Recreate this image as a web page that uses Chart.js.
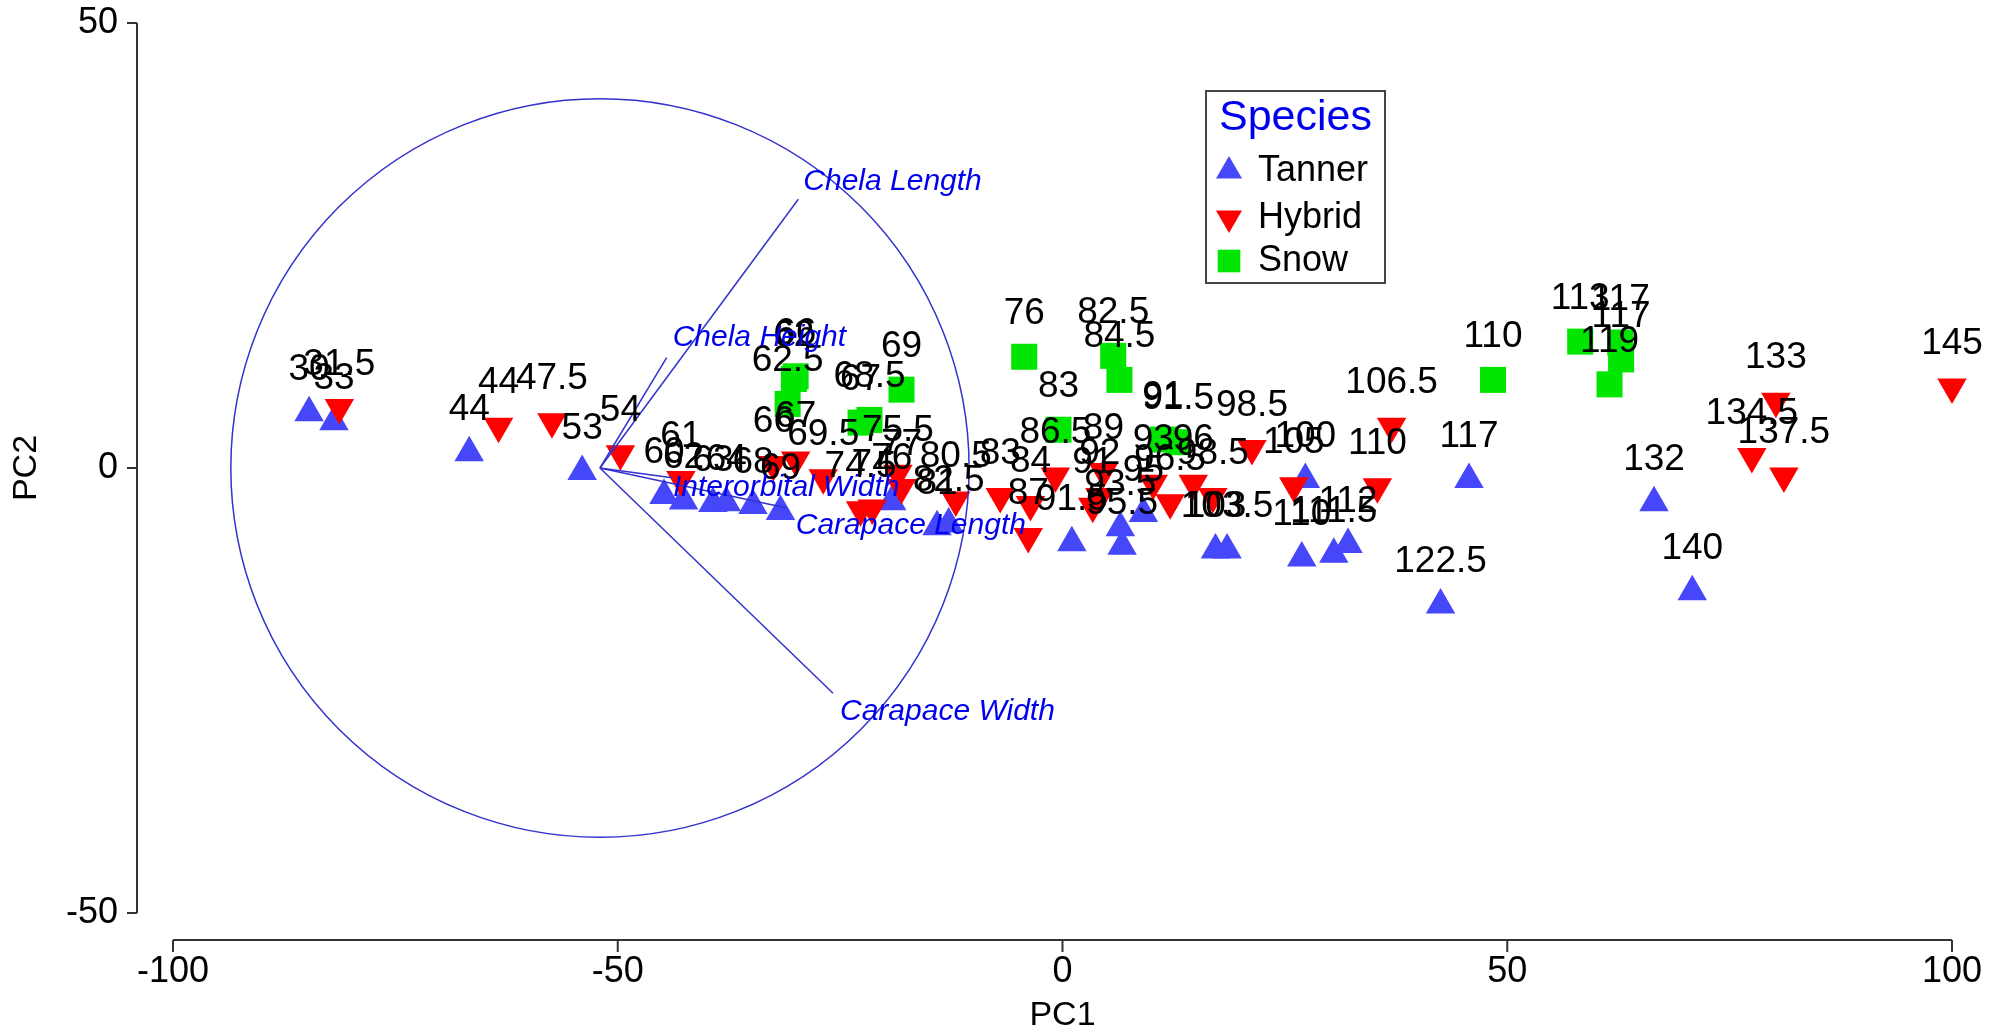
<!DOCTYPE html>
<html>
<head>
<meta charset="utf-8">
<title>PCA - Species</title>
<script src="https://cdn.jsdelivr.net/npm/chart.js@4.4.1/dist/chart.umd.min.js"></script>
<style>
    html, body { margin: 0; padding: 0; background: #fff; }
    #wrap { width: 1990px; height: 1033px; }
</style>
</head>
<body>
<div id="wrap"><canvas id="chartPCA"></canvas></div>
<script>
// Scores (PC1, PC2) and the carapace width used as label
const tannerPC1 = [-84.7, -81.9, -66.7, -54.0, -44.8, -42.6, -39.3, -37.8, -34.8, -31.7, -19.2, -14.1, -12.8,
    1.05, 6.5, 6.7, 9.1, 17.2, 18.5, 27.3, 26.9, 30.5, 32.1, 45.7, 42.5, 66.5, 70.8];
const tannerPC2 = [6.2, 5.2, 1.7, -0.4, -3.1, -3.7, -4.0, -3.9, -4.2, -4.9, -3.8, -6.6, -6.3,
    -8.4, -6.7, -8.8, -5.1, -9.2, -9.2, -1.3, -10.1, -9.7, -8.6, -1.3, -15.4, -3.9, -13.9];
const tannerLabels = ["30", "33", "44", "53", "60", "62", "63", "64", "68", "69", "76", "81", "82.5",
    "91.5", "93.5", "95.5", "95", "103", "103.5", "100", "110", "111.5", "112", "117", "122.5", "132", "140"];

const hybridPC1 = [-81.3, -63.4, -57.4, -49.7, -42.9, -32.5, -30.0, -26.9, -22.7, -21.4, -18.5, -18.1, -12.0,
    -7.0, -3.6, -3.85, -0.8, 4.6, 4.2, 3.4, 10.2, 12.1, 14.7, 16.9, 21.3, 26.0, 37.0, 35.4, 80.2, 77.5, 81.1, 100.0];
const hybridPC2 = [6.8, 4.7, 5.2, 1.6, -1.3, 0.4, 0.9, -1.1, -4.7, -4.5, -0.6, -2.2, -3.6,
    -3.2, -4.1, -7.7, -0.9, -0.4, -3.2, -4.3, -1.7, -3.9, -1.7, -3.2, 2.2, -2.0, 4.7, -2.1, 7.5, 1.3, -0.9, 9.1];
const hybridLabels = ["31.5", "44", "47.5", "54", "61", "66", "67", "69.5", "74.5", "74", "75.5", "77", "80.5",
    "83", "84", "87", "86.5", "89", "92", "91", "93", "96.5", "96", "98.5", "98.5", "105", "106.5", "110",
    "133", "134.5", "137.5", "145"];

const snowPC1 = [-30.2, -30.0, -30.9, -22.7, -21.7, -18.1, -4.3, 5.7, 6.4, -0.45, 11.3, 13.0, 48.4, 58.2, 62.7, 62.8, 61.5];
const snowPC2 = [10.0, 10.3, 7.2, 5.1, 5.4, 8.8, 12.5, 12.6, 9.9, 4.3, 3.2, 2.9, 9.9, 14.2, 14.1, 12.2, 9.4];
const snowLabels = ["62", "66", "62.5", "67", "68.5", "69", "76", "82.5", "84.5", "83", "91", "91.5",
    "110", "113", "117", "117", "119"];

// Variable vectors of the biplot
const vectorNames = ["Chela Length", "Chela Height", "Interorbital Width", "Carapace Length", "Carapace Width"];
const vectorPC1 = [-29.7, -44.5, -43.9, -31.0, -25.8];
const vectorPC2 = [30.2, 12.4, -1.1, -4.5, -25.3];
const vectorOrigin = [-52, 0];
const circleRadius = 41.5;

const xTicks = [-100, -50, 0, 50, 100];
const yTicks = [-50, 0, 50];

// styles
const FONT = "'Liberation Sans', Arial, sans-serif";
const TANNER = "rgb(70,70,250)";
const HYBRID = "rgb(255,0,0)";
const SNOW = "rgb(0,230,0)";
const VEC = "rgb(50,50,205)";
const vectorLabelOffset = [[5, -18], [6, -20], [1, 10], [9, 18], [7, 18]];

const toPoints = (xs, ys) => xs.map((x, i) => ({ x: x, y: ys[i] }));

const species = [
    { label: "Snow", data: toPoints(snowPC1, snowPC2), pointLabels: snowLabels,
      pointStyle: "rect", pointRadius: 18.4, backgroundColor: SNOW },
    { label: "Hybrid", data: toPoints(hybridPC1, hybridPC2), pointLabels: hybridLabels,
      pointStyle: "triangle", rotation: 180, pointRadius: 17, backgroundColor: HYBRID },
    { label: "Tanner", data: toPoints(tannerPC1, tannerPC2), pointLabels: tannerLabels,
      pointStyle: "triangle", pointRadius: 17, backgroundColor: TANNER }
];

const vectors = vectorNames.map((name, i) => ({
    label: name,
    data: [{ x: vectorOrigin[0], y: vectorOrigin[1] }, { x: vectorPC1[i], y: vectorPC2[i] }],
    showLine: true,
    borderColor: VEC,
    borderWidth: 1.5,
    pointRadius: 0
}));

const datasets = vectors.concat(species.map(s => Object.assign({
    borderWidth: 0,
    pointBorderWidth: 0,
    pointHoverRadius: s.pointRadius,
    clip: false
}, s)));

// circle, point labels and vector labels
const annotations = {
    id: "annotations",
    afterDatasetsDraw(chart) {
        const { ctx, scales: { x, y } } = chart;
        ctx.save();
        // correlation circle
        const cx = x.getPixelForValue(vectorOrigin[0]);
        const cy = y.getPixelForValue(vectorOrigin[1]);
        const rx = x.getPixelForValue(vectorOrigin[0] + circleRadius) - cx;
        const ry = cy - y.getPixelForValue(vectorOrigin[1] + circleRadius);
        ctx.strokeStyle = VEC;
        ctx.lineWidth = 1.5;
        ctx.beginPath();
        ctx.ellipse(cx, cy, rx, ry, 0, 0, Math.PI * 2);
        ctx.stroke();

        // sample labels
        ctx.fillStyle = "#000";
        ctx.font = "37px " + FONT;
        ctx.textAlign = "center";
        ctx.textBaseline = "middle";
        chart.data.datasets.forEach((ds, di) => {
            if (!ds.pointLabels) return;
            chart.getDatasetMeta(di).data.forEach((pt, i) => {
                ctx.fillText(ds.pointLabels[i], pt.x, pt.y - 43);
            });
        });

        // vector labels
        ctx.fillStyle = "#0000EE";
        ctx.font = "italic 30px " + FONT;
        ctx.textAlign = "left";
        vectorNames.forEach((name, i) => {
            const px = x.getPixelForValue(vectorPC1[i]);
            const py = y.getPixelForValue(vectorPC2[i]);
            ctx.fillText(name, px + vectorLabelOffset[i][0], py + vectorLabelOffset[i][1]);
        });
        ctx.restore();
    }
};

// detached axis lines (PRIMER style) + legend box
const frame = {
    id: "frame",
    afterDraw(chart) {
        const { ctx, chartArea, scales: { x, y } } = chart;
        ctx.save();
        ctx.strokeStyle = "#333";
        ctx.lineWidth = 2;
        const ax = chartArea.left - 36;
        const ay = chartArea.bottom + 27;
        ctx.beginPath();
        ctx.moveTo(ax, y.getPixelForValue(yTicks[yTicks.length - 1]));
        ctx.lineTo(ax, y.getPixelForValue(yTicks[0]));
        yTicks.forEach(v => {
            const py = y.getPixelForValue(v);
            ctx.moveTo(ax - 10, py);
            ctx.lineTo(ax, py);
        });
        ctx.moveTo(x.getPixelForValue(xTicks[0]), ay);
        ctx.lineTo(x.getPixelForValue(xTicks[xTicks.length - 1]), ay);
        xTicks.forEach(v => {
            const px = x.getPixelForValue(v);
            ctx.moveTo(px, ay);
            ctx.lineTo(px, ay + 12);
        });
        ctx.stroke();

        // legend
        const L = { left: 1206, top: 91, w: 179, h: 192 };
        ctx.fillStyle = "#fff";
        ctx.fillRect(L.left, L.top, L.w, L.h);
        ctx.strokeStyle = "#444";
        ctx.lineWidth = 2;
        ctx.strokeRect(L.left, L.top, L.w, L.h);
        ctx.fillStyle = "#0000EE";
        ctx.font = "43px " + FONT;
        ctx.textAlign = "center";
        ctx.textBaseline = "middle";
        ctx.fillText("Species", L.left + L.w / 2, L.top + 27);
        ctx.font = "36px " + FONT;
        ctx.textAlign = "left";
        const rows = [80, 127, 170];
        ["Tanner", "Hybrid", "Snow"].forEach((name, i) => {
            const ds = species.find(s => s.label === name);
            ctx.fillStyle = ds.backgroundColor;
            Chart.helpers.drawPoint(ctx, {
                pointStyle: ds.pointStyle,
                rotation: ds.rotation || 0,
                radius: ds.pointStyle === "rect" ? 16 : 15,
                borderWidth: 0
            }, L.left + 23, L.top + rows[i]);
            ctx.fillStyle = "#000";
            ctx.fillText(name, L.left + 52, L.top + rows[i]);
        });
        ctx.restore();
    }
};

new Chart(document.getElementById("chartPCA"), {
    type: "scatter",
    data: { datasets: datasets },
    options: {
        responsive: true,
        maintainAspectRatio: false,
        animation: false,
        events: [],
        layout: { padding: { top: 23, right: 38, left: 0, bottom: 0 } },
        plugins: { legend: { display: false }, tooltip: { enabled: false } },
        scales: {
            x: {
                min: -100,
                max: 100,
                afterBuildTicks: s => { s.ticks = xTicks.map(v => ({ value: v })); },
                afterFit: s => { s.height = 120; s.paddingLeft = 0; s.paddingRight = 0; },
                grid: { display: false, drawTicks: false },
                border: { display: false },
                ticks: { color: "#000", padding: 37, font: { family: FONT, size: 36 }, callback: v => String(v) },
                title: { display: true, text: "PC1", color: "#000",
                         font: { family: FONT, size: 34, lineHeight: 1 }, padding: { top: 0, bottom: 0 } }
            },
            y: {
                min: -50,
                max: 50,
                afterBuildTicks: s => { s.ticks = yTicks.map(v => ({ value: v })); },
                afterFit: s => { s.width = 173; s.paddingTop = 0; s.paddingBottom = 0; },
                grid: { display: false, drawTicks: false },
                border: { display: false },
                ticks: { color: "#000", padding: 55, font: { family: FONT, size: 36 }, callback: v => String(v) },
                title: { display: true, text: "PC2", color: "#000",
                         font: { family: FONT, size: 34, lineHeight: 1 }, padding: { top: 10, bottom: 0 } }
            }
        }
    },
    plugins: [annotations, frame]
});
</script>
</body>
</html>
